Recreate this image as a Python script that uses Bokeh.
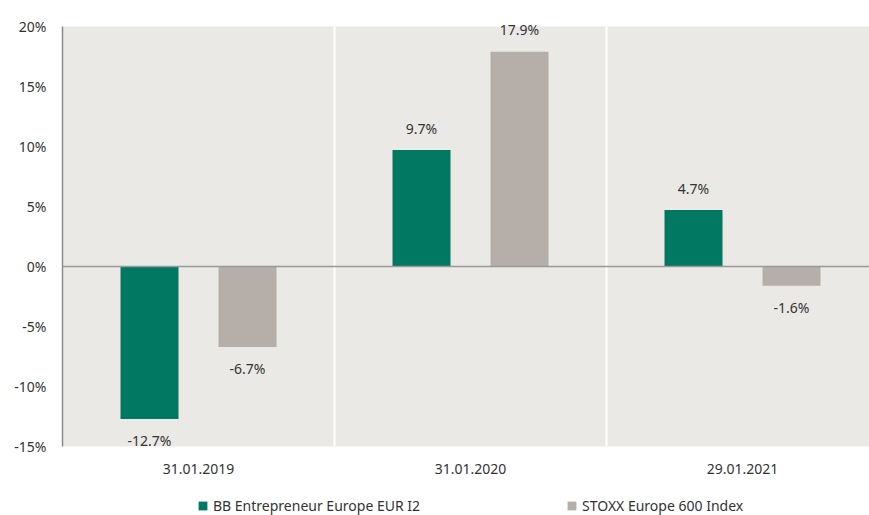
from bokeh.plotting import figure
from bokeh.models import (ColumnDataSource, Range1d, FixedTicker, PrintfTickFormatter,
                          Span, Legend, LegendItem, LabelSet, BoxAnnotation)
from bokeh.core.properties import value
from bokeh.embed import file_html
from bokeh.resources import INLINE

categories = ["31.01.2019", "31.01.2020", "29.01.2021"]
series_names = ["BB Entrepreneur Europe EUR I2", "STOXX Europe 600 Index"]
fund_values = [-12.7, 9.7, 4.7]
index_values = [-6.7, 17.9, -1.6]
y_ticks = [-15, -10, -5, 0, 5, 10, 15, 20]
y_min, y_max = -15, 20

GREEN = "#007862"
GREY = "#B5AEA9"
BG = "#EBE9E5"
TXT = "#333333"
FONT = "Noto Sans"

W, H = 869, 515
LEFT = 62
PLOT_TOP, PLOT_BOTTOM = 26, 446      # pixel rows of the shaded area
CAT_PX = 272
PX_PER_UNIT = (PLOT_BOTTOM - PLOT_TOP) / (y_max - y_min)
y_hi = y_max + PLOT_TOP / PX_PER_UNIT           # frame reaches canvas top
y_lo = y_max - (H - PLOT_TOP) / PX_PER_UNIT     # frame reaches canvas bottom (legend room)

p = figure(width=W, height=H, output_backend="svg", toolbar_location=None,
           x_range=Range1d(0, (W - LEFT) / CAT_PX), y_range=Range1d(y_lo, y_hi),
           min_border_left=LEFT, min_border_right=0, min_border_top=0, min_border_bottom=0)
p.background_fill_color = "white"
p.border_fill_color = "white"
p.outline_line_color = None
p.grid.visible = False
p.xaxis.visible = False

p.add_layout(BoxAnnotation(bottom=y_min, top=y_max, fill_color=BG, fill_alpha=1,
                           line_color=None, level="underlay"))

centers = [i + 0.5 for i in range(len(categories))]
off = 49 / CAT_PX
bw = 58 / CAT_PX

def lab(v):
    return f"{v:.1f}%"

src_f = ColumnDataSource(dict(x=[c - off for c in centers], top=fund_values,
                              lab=[lab(v) for v in fund_values],
                              yo=[22 if v >= 0 else -22 for v in fund_values]))
src_i = ColumnDataSource(dict(x=[c + off for c in centers], top=index_values,
                              lab=[lab(v) for v in index_values],
                              yo=[22 if v >= 0 else -22 for v in index_values]))

# category separators
bounds = list(range(1, len(categories)))
p.segment(x0=bounds, x1=bounds, y0=[y_min] * len(bounds), y1=[y_max] * len(bounds),
          line_color="white", line_width=2)

r1 = p.vbar(x="x", top="top", bottom=0, width=bw, source=src_f, fill_color=GREEN, line_color=None)
r2 = p.vbar(x="x", top="top", bottom=0, width=bw, source=src_i, fill_color=GREY, line_color=None)

p.add_layout(Span(location=0, dimension="width", line_color="#999999", line_width=1.5))

for s in (src_f, src_i):
    p.add_layout(LabelSet(x="x", y="top", text="lab", y_offset="yo", source=s,
                          text_align="center", text_baseline="middle",
                          text_font=value(FONT), text_font_size="14px", text_color=TXT))

# category labels under the shaded area
cat_src = ColumnDataSource(dict(x=centers, y=[y_min] * len(centers), t=categories))
p.add_layout(LabelSet(x="x", y="y", text="t", y_offset=-22, source=cat_src,
                      text_align="center", text_baseline="middle",
                      text_font=value(FONT), text_font_size="14px", text_color=TXT))

# y axis
p.yaxis.ticker = FixedTicker(ticks=y_ticks)
p.yaxis.bounds = (y_min, y_max)
p.yaxis.formatter = PrintfTickFormatter(format="%d%%")
p.yaxis.major_tick_line_color = None
p.yaxis.major_tick_out = 0
p.yaxis.major_tick_in = 0
p.yaxis.minor_tick_line_color = None
p.yaxis.axis_line_color = "#8c8c8c"
p.yaxis.axis_line_width = 1.5
p.yaxis.major_label_standoff = 16
p.yaxis.major_label_text_font = FONT
p.yaxis.major_label_text_font_size = "14px"
p.yaxis.major_label_text_color = TXT

lg = Legend(items=[LegendItem(label=series_names[0], renderers=[r1]),
                   LegendItem(label=series_names[1], renderers=[r2])],
            location=(135, 0), orientation="horizontal", glyph_width=11, glyph_height=11,
            label_standoff=5, spacing=146, padding=0, margin=0,
            border_line_color=None, background_fill_alpha=0, label_text_font=FONT,
            label_text_font_size="14px", label_text_color=TXT)
p.add_layout(lg, "center")

open("out.html", "w").write(file_html(p, INLINE))
